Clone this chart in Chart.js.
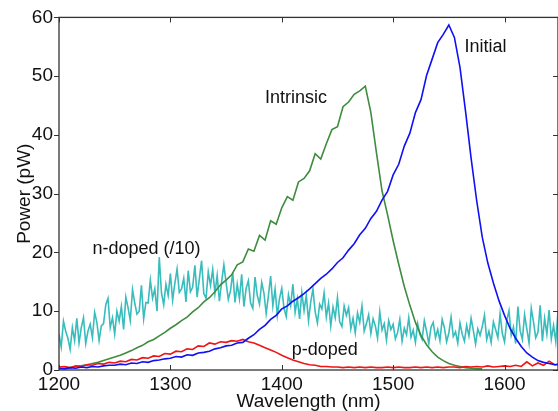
<!DOCTYPE html>
<html lang="en">
  <head>
    <meta charset="UTF-8" />
    <title>Power vs wavelength</title>
    <script src="https://cdn.jsdelivr.net/npm/chart.js"></script>
    <style>
      html, body { margin: 0; padding: 0; background: #fff; }
    </style>
  </head>
  <body>
    <canvas id="spectrumChart" width="558" height="411"></canvas>

    <script>
      // === Data ===
      const wavelengths = [
        1200, 1205, 1210, 1215, 1220, 1225, 1230, 1235, 1240, 1245,
        1250, 1255, 1260, 1265, 1270, 1275, 1280, 1285, 1290, 1295,
        1300, 1305, 1310, 1315, 1320, 1325, 1330, 1335, 1340, 1345,
        1350, 1355, 1360, 1365, 1370, 1375, 1380, 1385, 1390, 1395,
        1400, 1405, 1410, 1415, 1420, 1425, 1430, 1435, 1440, 1445,
        1450, 1455, 1460, 1465, 1470, 1475, 1480, 1485, 1490, 1495,
        1500, 1505, 1510, 1515, 1520, 1525, 1530, 1535, 1540, 1545,
        1550, 1555, 1560, 1565, 1570, 1575, 1580, 1585, 1590, 1595,
        1600, 1605, 1610, 1615, 1620, 1625, 1630, 1635, 1640, 1645, 1650
      ];

      const initialPower = [
        0.3, 0.2, 0.4, 0.3, 0.5, 0.4, 0.6, 0.5, 0.7, 0.8,
        0.8, 1.0, 0.9, 1.2, 1.1, 1.4, 1.3, 1.6, 1.7, 1.9,
        2.0, 2.3, 2.2, 2.6, 2.5, 2.9, 3.0, 3.2, 3.6, 3.8,
        4.1, 4.2, 4.6, 4.7, 5.4, 6.0, 6.9, 7.6, 8.6, 9.3,
        10.4, 10.9, 11.7, 12.3, 13.0, 13.8, 14.7, 15.6, 16.3, 17.2,
        18.3, 19.1, 20.4, 21.5, 23.0, 24.1, 25.8, 27.0, 28.9, 30.4,
        33.2, 35.0, 38.1, 40.3, 43.8, 46.0, 50.1, 52.9, 55.7, 57.1,
        58.7, 56.6, 51.5, 44.0, 36.0, 28.8, 22.6, 18.2, 14.8, 11.8,
        9.3, 7.1, 5.4, 4.0, 2.9, 2.2, 1.6, 1.3, 1.1, 0.9, 0.9
      ];

      const intrinsicPower = [
        0.2, 0.3, 0.4, 0.6, 0.7, 0.9, 1.1, 1.3, 1.6, 1.9,
        2.2, 2.5, 2.9, 3.3, 3.8, 4.2, 4.8, 5.2, 5.8, 6.4,
        7.1, 7.7, 8.4, 9.0, 9.9, 10.6, 11.6, 12.3, 13.3, 14.5,
        15.3, 16.2, 17.9, 18.4, 20.6, 20.2, 22.9, 22.1, 25.4, 24.8,
        27.6, 29.5, 28.9, 32.0, 32.6, 33.9, 36.8, 35.9, 38.5, 40.9,
        41.4, 44.8, 45.6, 46.9, 47.5, 48.3, 43.8, 37.0, 30.5, 26.4,
        22.0, 18.0, 14.2, 11.0, 8.1, 5.9, 4.3, 3.1, 2.2, 1.6,
        1.1, 0.8, 0.6, 0.4, 0.3, 0.2, 0.2
      ];

      const pDopedPower = [
        0.5, 0.6, 0.4, 0.7, 0.6, 0.9, 0.8, 1.1, 1.0, 1.3,
        1.2, 1.5, 1.4, 1.8, 1.7, 2.1, 2.0, 2.4, 2.3, 2.8,
        2.7, 3.2, 3.1, 3.6, 3.5, 4.1, 4.0, 4.6, 4.4, 4.8,
        4.7, 5.0, 4.9, 5.2, 4.8, 4.6, 4.2, 3.8, 3.4, 3.0,
        2.5, 2.1, 1.7, 1.4, 1.1, 0.9, 0.8, 0.6, 0.6, 0.5,
        0.5, 0.4, 0.5, 0.4, 0.5, 0.4, 0.5, 0.4, 0.4, 0.5,
        0.4, 0.5, 0.4, 0.4, 0.5, 0.4, 0.5, 0.4, 0.5, 0.4,
        0.5, 0.5, 0.4, 0.6, 0.5, 0.6, 0.5, 0.7, 0.5, 0.6,
        0.7, 0.6, 0.8, 0.6, 1.4, 0.7, 1.2, 0.8, 1.5, 0.9, 1.1
      ];

      const nDopedWavelengths = [
        1200, 1202, 1204, 1206, 1208, 1210, 1212, 1214, 1216, 1218,
        1220, 1222, 1224, 1226, 1228, 1230, 1232, 1234, 1236, 1238,
        1240, 1242, 1244, 1246, 1248, 1250, 1252, 1254, 1256, 1258,
        1260, 1262, 1264, 1266, 1268, 1270, 1272, 1274, 1276, 1278,
        1280, 1282, 1284, 1286, 1288, 1290, 1292, 1294, 1296, 1298,
        1300, 1302, 1304, 1306, 1308, 1310, 1312, 1314, 1316, 1318,
        1320, 1322, 1324, 1326, 1328, 1330, 1332, 1334, 1336, 1338,
        1340, 1342, 1344, 1346, 1348, 1350, 1352, 1354, 1356, 1358,
        1360, 1362, 1364, 1366, 1368, 1370, 1372, 1374, 1376, 1378,
        1380, 1382, 1384, 1386, 1388, 1390, 1392, 1394, 1396, 1398,
        1400, 1402, 1404, 1406, 1408, 1410, 1412, 1414, 1416, 1418,
        1420, 1422, 1424, 1426, 1428, 1430, 1432, 1434, 1436, 1438,
        1440, 1442, 1444, 1446, 1448, 1450, 1452, 1454, 1456, 1458,
        1460, 1462, 1464, 1466, 1468, 1470, 1472, 1474, 1476, 1478,
        1480, 1482, 1484, 1486, 1488, 1490, 1492, 1494, 1496, 1498,
        1500, 1502, 1504, 1506, 1508, 1510, 1512, 1514, 1516, 1518,
        1520, 1522, 1524, 1526, 1528, 1530, 1532, 1534, 1536, 1538,
        1540, 1542, 1544, 1546, 1548, 1550, 1552, 1554, 1556, 1558,
        1560, 1562, 1564, 1566, 1568, 1570, 1572, 1574, 1576, 1578,
        1580, 1582, 1584, 1586, 1588, 1590, 1592, 1594, 1596, 1598,
        1600, 1602, 1604, 1606, 1608, 1610, 1612, 1614, 1616, 1618,
        1620, 1622, 1624, 1626, 1628, 1630, 1632, 1634, 1636, 1638,
        1640, 1642, 1644, 1646, 1648, 1650
      ];

      // n-doped power, already divided by 10
      const nDopedPower = [
        6.1, 3.9, 8.3, 6.6, 5.4, 3.5, 7.2, 5.0, 8.8, 4.6,
        7.2, 8.9, 4.5, 6.6, 7.8, 5.5, 9.8, 8.1, 5.0, 7.5,
        7.9, 11.1, 12.2, 7.2, 8.9, 6.1, 10.0, 8.3, 10.8, 6.9,
        12.4, 10.6, 8.4, 13.7, 11.4, 9.5, 10.0, 14.4, 8.7, 11.5,
        11.4, 15.3, 12.2, 13.8, 10.0, 19.2, 13.1, 11.1, 14.6, 12.7,
        16.4, 11.9, 14.7, 17.2, 13.2, 13.8, 15.6, 11.6, 16.9, 13.3,
        14.1, 17.8, 12.4, 15.5, 18.6, 13.0, 12.2, 16.7, 14.4, 17.1,
        13.0, 16.1, 11.7, 15.0, 17.9, 14.9, 12.0, 13.5, 16.6, 11.5,
        14.6, 12.1, 16.3, 10.8, 13.9, 15.2, 11.4, 10.5, 15.8, 12.7,
        11.2, 14.9, 13.1, 9.6, 12.6, 16.0, 10.9, 13.8, 9.3, 12.2,
        13.9, 10.5, 9.1, 12.8, 11.0, 14.6, 9.8, 12.1, 8.7, 13.2,
        10.1, 12.7, 8.4, 11.6, 13.8, 9.9, 8.0, 11.2, 10.4, 13.1,
        9.0, 11.4, 7.5, 10.7, 8.9, 12.3, 8.2, 7.4, 10.9, 9.3,
        10.6, 7.0, 8.8, 6.3, 9.7, 8.1, 10.9, 6.6, 7.9, 9.4,
        6.2, 8.7, 7.5, 5.4, 9.9, 6.8, 7.9, 5.1, 8.4, 6.9,
        7.8, 5.3, 6.4, 8.6, 4.9, 7.1, 6.0, 8.9, 5.6, 6.8,
        4.7, 7.9, 6.1, 5.2, 8.4, 6.6, 4.5, 7.3, 8.1, 5.5,
        6.9, 5.0, 8.6, 7.2, 4.8, 6.3, 9.0, 5.7, 6.5, 4.6,
        8.0, 6.1, 4.9, 7.6, 5.8, 8.8, 6.7, 4.4, 7.0, 5.9,
        7.4, 9.3, 5.2, 6.6, 4.7, 8.2, 6.9, 5.5, 9.6, 6.2,
        4.8, 8.4, 10.1, 5.9, 7.3, 4.5, 10.8, 6.7, 5.2, 9.4,
        7.0, 4.6, 10.5, 8.2, 5.5, 6.4, 11.0, 4.9, 8.8, 6.1,
        10.2, 5.3, 7.6, 4.8, 9.9, 6.5
      ];

      const xTicks = [1200, 1300, 1400, 1500, 1600];
      const yTicks = [0, 10, 20, 30, 40, 50, 60];

      const toPoints = (xs, ys) => ys.map((v, i) => ({ x: xs[i], y: v }));

      // text labels next to the curves, in data coordinates
      const curveLabels = [
        { text: "Initial", x: 1564, y: 55 },
        { text: "Intrinsic", x: 1385, y: 46.3 },
        { text: "n-doped (/10)", x: 1230, y: 20.6 },
        { text: "p-doped", x: 1409, y: 3.4 },
      ];

      const FONT = '"Liberation Sans", Arial, Helvetica, sans-serif';
      Chart.defaults.font.family = FONT;
      Chart.defaults.font.size = 19;
      Chart.defaults.color = "#111";

      // box around the plot, MATLAB style tick marks, curve labels
      const framePlugin = {
        id: "frame",
        afterDatasetsDraw(chart) {
          const { ctx, chartArea: a, scales } = chart;
          const x = scales.x, y = scales.y;
          ctx.save();
          ctx.strokeStyle = "#333";
          ctx.lineWidth = 1.3;
          ctx.strokeRect(a.left, a.top, a.right - a.left, a.bottom - a.top);
          ctx.beginPath();
          xTicks.forEach((v) => {
            const px = Math.round(x.getPixelForValue(v)) + 0.5;
            ctx.moveTo(px, a.bottom);
            ctx.lineTo(px, a.bottom - 5);
            ctx.moveTo(px, a.top);
            ctx.lineTo(px, a.top + 5);
          });
          yTicks.forEach((v) => {
            const py = Math.round(y.getPixelForValue(v)) + 0.5;
            ctx.moveTo(a.left - 5, py);
            ctx.lineTo(a.left, py);
            ctx.moveTo(a.right, py);
            ctx.lineTo(a.right - 5, py);
          });
          ctx.lineWidth = 1;
          ctx.stroke();

          ctx.fillStyle = "#111";
          ctx.font = "18px " + FONT;
          ctx.textAlign = "left";
          ctx.textBaseline = "middle";
          curveLabels.forEach((l) => {
            ctx.fillText(l.text, x.getPixelForValue(l.x), y.getPixelForValue(l.y));
          });
          ctx.restore();
        },
      };

      new Chart(document.getElementById("spectrumChart"), {
        type: "line",
        data: {
          datasets: [
            {
              label: "Initial",
              data: toPoints(wavelengths, initialPower),
              borderColor: "#1010f5",
            },
            {
              label: "p-doped",
              data: toPoints(wavelengths, pDopedPower),
              borderColor: "#f01414",
            },
            {
              label: "Intrinsic",
              data: toPoints(wavelengths, intrinsicPower),
              borderColor: "#3f8c3f",
            },
            {
              label: "n-doped (/10)",
              data: toPoints(nDopedWavelengths, nDopedPower),
              borderColor: "#38bcbc",
            },
          ],
        },
        options: {
          responsive: false,
          animation: false,
          datasets: {
            line: { borderWidth: 1.6, pointRadius: 0, tension: 0, fill: false },
          },
          layout: { padding: { top: 17, right: 0, bottom: 0, left: 0 } },
          plugins: {
            legend: { display: false },
            tooltip: { enabled: false },
          },
          scales: {
            x: {
              type: "linear",
              min: 1200,
              max: 1648,
              afterBuildTicks: (s) => { s.ticks = xTicks.map((v) => ({ value: v })); },
              afterFit: (s) => { s.height = 41; },
              grid: { display: false, drawTicks: false },
              border: { display: false },
              ticks: { padding: 3, maxRotation: 0, callback: (v) => String(v) },
              title: {
                display: true,
                text: "Wavelength (nm)",
                font: { size: 19, lineHeight: 1 },
                padding: { top: 0, bottom: 0 },
              },
            },
            y: {
              min: 0,
              max: 60,
              afterBuildTicks: (s) => { s.ticks = yTicks.map((v) => ({ value: v })); },
              afterFit: (s) => { s.width = 59; },
              grid: { display: false, drawTicks: false },
              border: { display: false },
              ticks: { padding: 6, callback: (v) => String(v) },
              title: {
                display: true,
                text: "Power (pW)",
                font: { size: 19, lineHeight: 1 },
                padding: { top: 15, bottom: 0 },
              },
            },
          },
        },
        plugins: [framePlugin],
      });
    </script>
  </body>
</html>
